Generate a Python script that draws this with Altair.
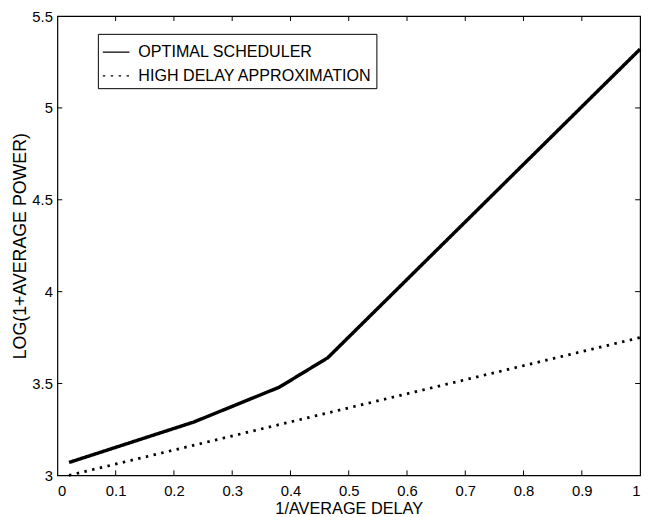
import altair as alt
import pandas as pd

# Data
opt_x = [0.02, 0.234, 0.381, 0.464, 1.0]
opt_y = [3.07, 3.29, 3.48, 3.64, 5.32]
hda_x = [0.02, 1.0]
hda_y = [3.0, 3.75]
series_names = ["OPTIMAL SCHEDULER", "HIGH DELAY APPROXIMATION"]
x_ticks = [0, 0.1, 0.2, 0.3, 0.4, 0.5, 0.6, 0.7, 0.8, 0.9, 1]
y_ticks = [3, 3.5, 4, 4.5, 5, 5.5]
x_inner_ticks = [0.1, 0.2, 0.3, 0.4, 0.5, 0.6, 0.7, 0.8, 0.9]
y_inner_ticks = [3.5, 4, 4.5, 5]

W, H = 590, 465
FONT = "Liberation Sans"

df_opt = pd.DataFrame({"x": opt_x, "y": opt_y, "series": series_names[0], "o": range(len(opt_x))})
df_hda = pd.DataFrame({"x": hda_x, "y": hda_y, "series": series_names[1], "o": range(len(hda_x))})

x_scale = alt.Scale(domain=[0, 1], nice=False, zero=False)
y_scale = alt.Scale(domain=[3, 5.5], nice=False, zero=False)
x_axis = alt.Axis(values=x_ticks, format="~g", title="1/AVERAGE DELAY", grid=False,
                  ticks=False, domain=False, labelPadding=8, titlePadding=3,
                  labelFontSize=15, titleFontSize=16.5)
y_axis = alt.Axis(values=y_ticks, format="~g", title="LOG(1+AVERAGE POWER)", grid=False,
                  ticks=False, domain=False, labelPadding=5, titlePadding=2,
                  labelFontSize=15, titleFontSize=18)
xenc = alt.X("x:Q", scale=x_scale, axis=x_axis)
yenc = alt.Y("y:Q", scale=y_scale, axis=y_axis)

dash = alt.StrokeDash(
    "series:N",
    scale=alt.Scale(domain=series_names, range=[[1, 0], [2.5, 5.5]]),
    legend=alt.Legend(
        title=None, orient="none", legendX=41, legendY=18,
        strokeColor="black", fillColor="white", padding=4,
        labelFont=FONT, labelFontSize=16.3, labelColor="black", labelLimit=0,
        symbolType="stroke", symbolSize=729, symbolStrokeWidth=1.2,
        symbolStrokeColor="black", rowPadding=1, labelOffset=8, cornerRadius=0,
    ),
)

line_opt = alt.Chart(df_opt).mark_line(color="black", strokeWidth=3.5).encode(
    x=xenc, y=yenc, order="o:Q", strokeDash=dash)
line_hda = alt.Chart(df_hda).mark_line(color="black", strokeWidth=2.8).encode(
    x=xenc, y=yenc, order="o:Q", strokeDash=dash)

xt = pd.DataFrame({"x": x_inner_ticks})
yt = pd.DataFrame({"y": y_inner_ticks})

tick_bottom = alt.Chart(xt).mark_rule(color="black", strokeWidth=1).encode(
    x=xenc, y=alt.value(H), y2=alt.value(H - 5))
tick_top = alt.Chart(xt).mark_rule(color="black", strokeWidth=1).encode(
    x=xenc, y=alt.value(0), y2=alt.value(5))
tick_left = alt.Chart(yt).mark_rule(color="black", strokeWidth=1).encode(
    y=yenc, x=alt.value(0), x2=alt.value(5))
tick_right = alt.Chart(yt).mark_rule(color="black", strokeWidth=1).encode(
    y=yenc, x=alt.value(W), x2=alt.value(W - 5))

chart = alt.layer(line_opt, line_hda, tick_bottom, tick_top, tick_left, tick_right).properties(
    width=W, height=H,
    autosize=alt.AutoSizeParams(type="none"),
    padding={"left": 50, "top": 5, "right": 7, "bottom": 38},
    background="white",
).configure_view(
    stroke="black", strokeWidth=1.2
).configure_axis(
    labelFont=FONT, labelColor="black",
    titleFont=FONT, titleColor="black", titleFontWeight="normal",
)

chart.save("out.html", embed_options={"renderer": "svg", "actions": False})
